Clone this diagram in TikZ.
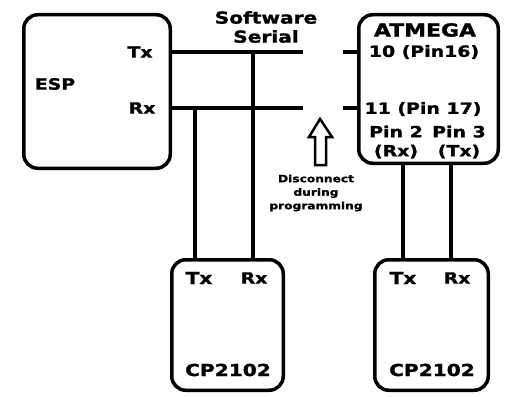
\documentclass[tikz,border=0pt]{standalone}
\usepackage{fontspec}
\setmainfont{DejaVu Sans}[BoldFeatures={FakeBold=1.2}]
\usepackage{graphicx}
\usetikzlibrary{calc}
\newcommand\wtxt[1]{\scalebox{1.22}[1]{#1}}
\tikzset{
  board/.style={
    draw,
    line width=3.5pt,
    rounded corners=14pt,
    inner sep=0pt
  },
  pin/.style={
    inner sep=0pt,
    align=center,
    font=\fontsize{15.5}{19}\selectfont\bfseries
  },
  big/.style={
    pin,
    font=\fontsize{16.5}{19}\selectfont\bfseries
  },
  note/.style={
    inner sep=0pt,
    align=center,
    font=\fontsize{10}{13.5}\selectfont\bfseries
  },
  wire/.style={
    line width=3.5pt
  },
  hollow/.style={
    line width=2.5pt,
    line join=miter
  }
}

\begin{document}
\begin{tikzpicture}[x=1pt,y=-1pt]
\useasboundingbox (0,0) rectangle (513,396);
% boards
\node[board,minimum width=146.5pt,minimum height=153.5pt] (esp) at (97,91.5) {};
\node[board,minimum width=139.5pt,minimum height=148.5pt] (atmega) at (428.5,89) {};
\node[board,minimum width=111.5pt,minimum height=130.5pt] (cpa) at (227.5,325) {};
\node[board,minimum width=113.5pt,minimum height=130.5pt] (cpb) at (431.5,325) {};
% labels
\node[pin] (esplbl) at (55,84) {\wtxt{ESP}};
\node[pin] (esptx) at (140,52) {\wtxt{Tx}};
\node[pin] (esprx) at (142,108) {\wtxt{Rx}};
\node[big] (soft) at (266,27) {\wtxt{Software}\\\wtxt{Serial}};
\node[pin,font=\fontsize{18}{19}\selectfont\bfseries] (atlbl) at (425,30) {\wtxt{ATMEGA}};
\node[pin] (attx) at (424,52) {\wtxt{10 (Pin16)}};
\node[pin] (atrx) at (423,109) {\wtxt{11 (Pin 17)}};
\node[pin] (pintwo) at (396,142) {\wtxt{Pin 2}\\\wtxt{(Rx)}};
\node[pin] (pinthree) at (459,142) {\wtxt{Pin 3}\\\wtxt{(Tx)}};
\node[note] (disc) at (316,193) {\wtxt{Disconnect}\\\wtxt{during}\\\wtxt{programming}};
\node[big] (cpatx) at (199,278) {\wtxt{Tx}};
\node[pin] (cparx) at (254,278) {\wtxt{Rx}};
\node[big] (cpalbl) at (228,370) {\wtxt{CP2102}};
\node[big] (cpbtx) at (403,278) {\wtxt{Tx}};
\node[pin] (cpbrx) at (457,278) {\wtxt{Rx}};
\node[big] (cpblbl) at (432,370) {\wtxt{CP2102}};
% wires
\coordinate (swtx) at (303,52);
\coordinate (swrx) at (303,108);
\coordinate (sttx) at (343,52);
\coordinate (strx) at (343,108);
\coordinate (jtx) at (253,52);
\coordinate (jrx) at (195,108);
\coordinate (ptwo) at (403,0);
\coordinate (pthree) at (451,0);
\draw[wire] (esp.east |- swtx) -- (swtx);
\draw[wire] (esp.east |- swrx) -- (swrx);
\draw[wire] (sttx) -- (atmega.west |- sttx);
\draw[wire] (strx) -- (atmega.west |- strx);
\draw[wire] (jtx) -- (jtx |- cpa.north);
\draw[wire] (jrx) -- (jrx |- cpa.north);
\draw[wire] (ptwo |- atmega.south) -- (ptwo |- cpb.north);
\draw[wire] (pthree |- atmega.south) -- (pthree |- cpb.north);
% hollow arrow
\draw[hollow] (320,119) -- (332,137) -- (326,137) -- (326,165) -- (315,165)
  -- (315,137) -- (309,137) -- cycle;
\end{tikzpicture}
\end{document}
